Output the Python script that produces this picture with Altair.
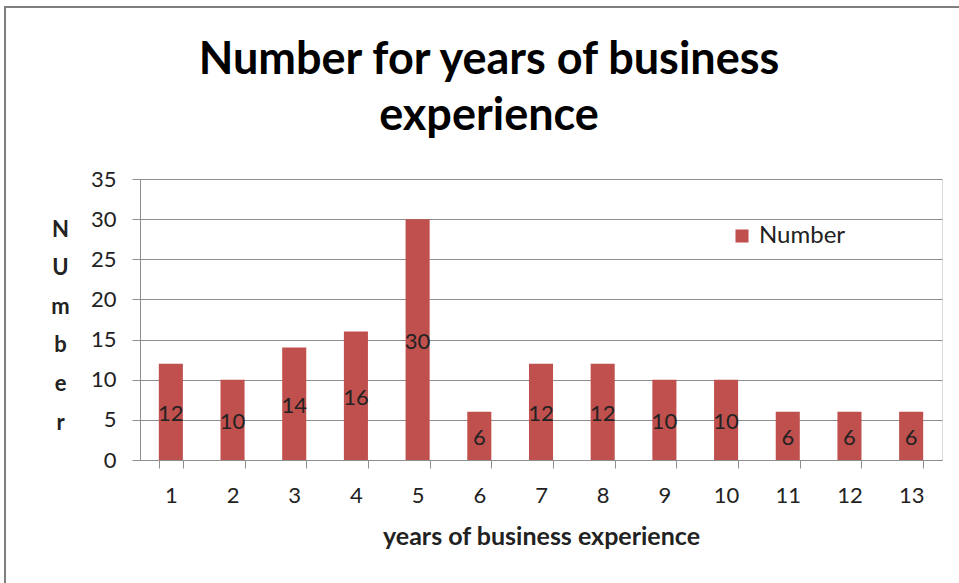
import altair as alt
import pandas as pd

years = [str(i) for i in range(1, 14)]
counts = [12, 10, 14, 16, 30, 6, 12, 12, 10, 10, 6, 6, 6]
series_name = "Number"
title_lines = ["Number for years of business", "experience"]
y_title_letters = ["N", "U", "m", "b", "e", "r"]
x_title = "years of business experience"

df = pd.DataFrame({"year": years, "value": counts, "series": series_name})

W, H = 802, 281
FONT = "Lato"
GRID = "#8e8e8e"
TXT = "#222222"

base = alt.Chart(df).transform_calculate(mid="datum.value / 2")

x_enc = alt.X(
    "year:N",
    sort=years,
    scale=alt.Scale(paddingInner=0.61, paddingOuter=0.305),
    axis=alt.Axis(
        title=x_title,
        labelAngle=0,
        tickBand="extent",
        tickSize=8,
        labelPadding=17,
        labelFontSize=22,
        labelFont=FONT,
        labelColor=TXT,
        titleFont=FONT,
        titleFontSize=25,
        titleFontWeight="bold",
        titleColor=TXT,
        titlePadding=18,
        domainColor=GRID,
        tickColor=GRID,
        grid=False,
    ),
)

bars = base.mark_bar().encode(
    x=x_enc,
    y=alt.Y(
        "value:Q",
        scale=alt.Scale(domain=[0, 35], nice=False),
        axis=alt.Axis(
            values=[0, 5, 10, 15, 20, 25, 30, 35],
            title=y_title_letters,
            titleAngle=0,
            titleFont=FONT,
            titleFontSize=22,
            titleFontWeight="bold",
            titleColor=TXT,
            titleLineHeight=38.6,
            titleX=-80,
            titleY=57,
            titleAlign="center",
            titleBaseline="alphabetic",
            tickSize=8,
            labelPadding=16,
            labelFontSize=22,
            labelFont=FONT,
            labelColor=TXT,
            domainColor=GRID,
            tickColor=GRID,
            gridColor=GRID,
            gridWidth=1.2,
        ),
    ),
    color=alt.Color(
        "series:N",
        scale=alt.Scale(range=["#C0504D"]),
        legend=alt.Legend(
            title=None,
            orient="none",
            legendX=590,
            legendY=45,
            symbolType="square",
            symbolSize=170,
            symbolStrokeWidth=0,
            labelFont=FONT,
            labelFontSize=24,
            labelColor=TXT,
            labelOffset=5,
        ),
    ),
)

labels = base.mark_text(font=FONT, fontSize=22, color=TXT, baseline="middle", dy=2).encode(
    x=alt.X("year:N", sort=years),
    y=alt.Y("mid:Q"),
    text=alt.Text("value:Q"),
)

border = alt.Chart(alt.Data(values=[{"a": 1}])).mark_rect(
    fill=None, stroke="#7f7f7f", strokeWidth=2
).encode(
    x=alt.value(-135), x2=alt.value(W + 60), y=alt.value(-172), y2=alt.value(H + 160)
)

chart = alt.layer(border, bars, labels).properties(
    width=W,
    height=H,
    padding={"left": 140, "top": 179, "right": 17, "bottom": 123},
    autosize=alt.AutoSizeParams(type="none"),
    title=alt.TitleParams(
        text=title_lines,
        font=FONT,
        fontSize=45,
        fontWeight="bold",
        color="#000000",
        anchor="middle",
        baseline="top",
        dx=-52,
        dy=133,
        lineHeight=56,
        offset=0,
    ),
).configure_view(stroke=None).configure(background="white")

chart.save("out.html", embed_options={"renderer": "svg", "actions": False})
